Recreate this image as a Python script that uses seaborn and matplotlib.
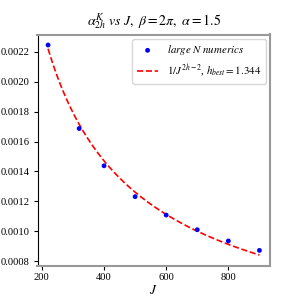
import numpy as np
import pandas as pd
import matplotlib
matplotlib.use("Agg")
import matplotlib.pyplot as plt
import seaborn as sns

# data
J_vals = [220, 320, 400, 500, 600, 700, 800, 900]
alpha_vals = [0.002245, 0.001687, 0.001438, 0.001232, 0.001109, 0.001011, 0.000936, 0.000873]

# fit parameters: alpha ~ C / J^(2h-2)
h_best = 1.344
fit_amp = 0.00222  # value of the fit at J = 220

plt.rcParams['font.family'] = ['Liberation Serif', 'DejaVu Serif']
plt.rcParams['mathtext.fontset'] = 'stix'

df = pd.DataFrame({'J': J_vals, 'alpha': alpha_vals})
J_fit = np.linspace(min(J_vals), max(J_vals), 200)
fit_df = pd.DataFrame({'J': J_fit,
                       'alpha': fit_amp * (J_fit / J_fit[0]) ** (-(2 * h_best - 2))})

fig, ax = plt.subplots(figsize=(3, 3), dpi=100)
sns.scatterplot(data=df, x='J', y='alpha', ax=ax, color='blue', s=12,
                edgecolor='none', label=r'$large\ N\ numerics$', zorder=3)
sns.lineplot(data=fit_df, x='J', y='alpha', ax=ax, color='red', linestyle='--',
             linewidth=1.2, label=r'$1/J^{2h-2}$, $h_{best} = 1.344$')

ax.set_title(r'$\alpha^{K}_{2h}\ vs\ J,\ \beta = 2\pi,\ \alpha = 1.5$', fontsize=10)
ax.set_xlabel(r'$J$', fontsize=9.5, labelpad=1)
ax.set_ylabel('')
ax.set_xticks([200, 400, 600, 800])
ax.set_yticks([0.0008, 0.0010, 0.0012, 0.0014, 0.0016, 0.0018, 0.0020, 0.0022])
ax.set_yticklabels(['0.0008', '0.0010', '0.0012', '0.0014', '0.0016', '0.0018', '0.0020', '0.0022'])
ax.tick_params(labelsize=7.6, length=3, pad=2.5)

for side in ['top', 'right', 'bottom']:
    ax.spines[side].set_color('#999999')
    ax.spines[side].set_linewidth(1.5)
ax.spines['left'].set_color('black')
ax.spines['left'].set_linewidth(0.8)

ax.legend(loc='upper right', fontsize=7.8, frameon=True, edgecolor='#cccccc',
          borderaxespad=0.4)

fig.subplots_adjust(left=0.125, right=0.9, top=0.885, bottom=0.115)
fig.savefig('out.png', dpi=100)
